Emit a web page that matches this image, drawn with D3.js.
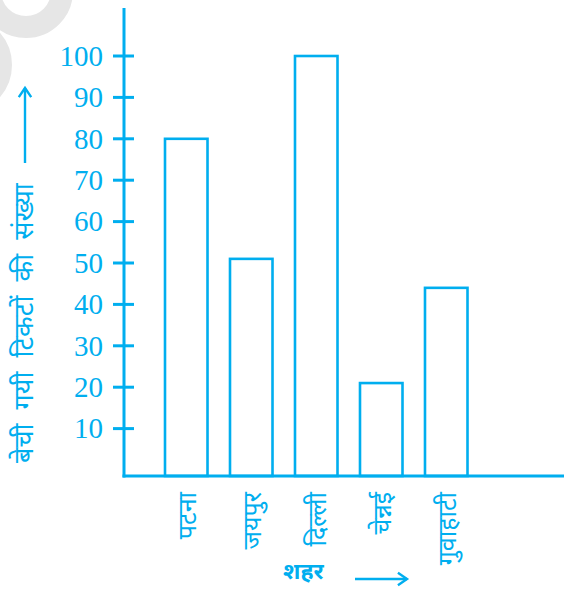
<!DOCTYPE html>
<html>
<head>
<meta charset="utf-8">
<script src="https://cdn.jsdelivr.net/npm/d3@7"></script>
<style>
body{ margin:0; background:#fff; }
svg text{ fill:#00aeef; }
.tick-label{ font-family:"Liberation Serif","Times New Roman",serif; font-size:29px; }
.deva{ font-family:"Noto Sans Devanagari","Lohit Devanagari","Noto Sans",sans-serif; }
</style>
</head>
<body>
<svg></svg>
<script>
var width = 564,
    height = 590;

var cities = ["पटना", "जयपुर", "दिल्ली", "चेन्नई", "गुवाहाटी"];
var tickets = [80, 51, 100, 21, 44];
var tickValues = [10, 20, 30, 40, 50, 60, 70, 80, 90, 100];

var blue = "#00aeef";
var axisX = 124, baseY = 476;

var svg = d3.select("svg")
	.attr("width", width)
	.attr("height", height);

// faint watermark in the corner
svg.append("circle")
	.attr("cx", 26).attr("cy", -9).attr("r", 36)
	.style("fill", "none").style("stroke", "#e6e6e6").style("stroke-width", 22);
svg.append("circle")
	.attr("cx", -37).attr("cy", 65).attr("r", 40)
	.style("fill", "none").style("stroke", "#e6e6e6").style("stroke-width", 18);

var y = d3.scaleLinear().domain([0, 100]).range([470, 56]);
var x = d3.scaleBand().domain(cities).range([165, 467.5]).paddingInner(0.346).paddingOuter(0);

// axes
svg.append("line")
	.attr("x1", axisX).attr("x2", axisX).attr("y1", 8).attr("y2", baseY + 1.5)
	.style("stroke", blue).style("stroke-width", 3);
svg.append("line")
	.attr("x1", axisX - 1.5).attr("x2", width).attr("y1", baseY).attr("y2", baseY)
	.style("stroke", blue).style("stroke-width", 3);

var ticks = svg.selectAll(".tick").data(tickValues).enter().append("g")
	.attr("class", "tick")
	.attr("transform", function(d){ return "translate(" + axisX + "," + y(d) + ")"; });
ticks.append("line")
	.attr("x1", -11).attr("x2", 10)
	.style("stroke", blue).style("stroke-width", 3);
ticks.append("text")
	.attr("class", "tick-label")
	.attr("x", -21).attr("dy", "0.34em")
	.attr("text-anchor", "end")
	.text(function(d){ return d; });

// bars
svg.selectAll(".bar").data(cities).enter().append("rect")
	.attr("class", "bar")
	.attr("x", function(d){ return x(d); })
	.attr("y", function(d, i){ return y(tickets[i]); })
	.attr("width", x.bandwidth())
	.attr("height", function(d, i){ return baseY - y(tickets[i]); })
	.style("fill", "none").style("stroke", blue).style("stroke-width", 2.6);

// city names, written upwards
svg.selectAll(".city").data(cities).enter().append("text")
	.attr("class", "city deva")
	.attr("transform", function(d){ return "translate(" + (x(d) + x.bandwidth()/2 + 1) + ",492) rotate(-90)"; })
	.attr("text-anchor", "end")
	.attr("dy", "0.35em")
	.style("font-size", "25px")
	.text(function(d){ return d; });

// axis titles
svg.append("text")
	.attr("class", "deva")
	.attr("transform", "translate(24,463) rotate(-90)")
	.attr("dy", "0.35em")
	.style("font-size", "27px")
	.style("word-spacing", "7px")
	.text("बेची गयी टिकटों की संख्या");

svg.append("text")
	.attr("class", "deva")
	.attr("x", 283).attr("y", 579)
	.style("font-size", "23px").style("font-weight", "bold")
	.text("शहर");

function arrow(x1, y1, x2, y2) {
	svg.append("line")
		.attr("x1", x1).attr("y1", y1).attr("x2", x2).attr("y2", y2)
		.style("stroke", blue).style("stroke-width", 2.4);
	var a = Math.atan2(y2 - y1, x2 - x1), L = 11;
	var p = [[x2 - L*Math.cos(a - 0.6), y2 - L*Math.sin(a - 0.6)], [x2, y2], [x2 - L*Math.cos(a + 0.6), y2 - L*Math.sin(a + 0.6)]];
	svg.append("path")
		.attr("d", d3.line()(p))
		.style("fill", "none").style("stroke", blue).style("stroke-width", 2.4);
}
arrow(25, 163, 25, 88);
arrow(355, 579, 407, 579);
</script>
</body>
</html>
